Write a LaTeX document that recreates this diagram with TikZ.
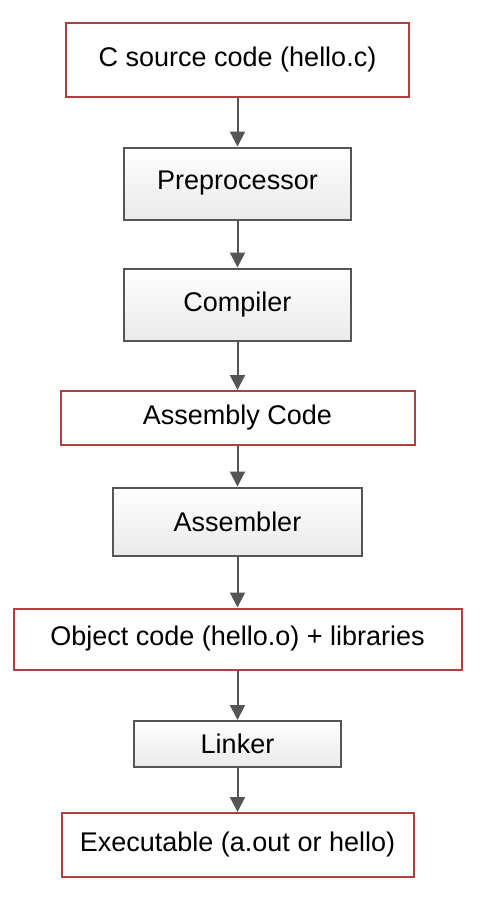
\documentclass[tikz,border=0pt]{standalone}
\usepackage{fontspec}
\setmainfont{Liberation Sans}
\usepackage{xcolor}
\definecolor{rojo}{RGB}{176, 64, 64}
\definecolor{grisOscuro}{RGB}{85, 85, 85}
\definecolor{grisClaro}{RGB}{234, 234, 234}
\usepackage{tikz}
\usetikzlibrary{arrows.meta,shapes,calc,positioning}
\tikzstyle{edge}  =[line width=2pt, draw=grisOscuro,
                    -{Triangle[width=15pt,length=15pt]}]
\tikzstyle{datos}=[rectangle, draw=rojo, fill=white,
                    line width=2pt, inner sep=0pt,
                    font=\fontsize{27}{32}\selectfont]
\tikzstyle{proceso}=[rectangle, draw=grisOscuro,
                    top color=white, bottom color=grisClaro,
                    line width=2pt, inner sep=0pt,
                    font=\fontsize{27}{32}\selectfont]

\begin{document}
\begin{tikzpicture}[x=1pt,y=-1pt]
    \useasboundingbox (0,0) rectangle (480,898);

    \node (1)[datos, minimum width=343pt, minimum height=74pt]
        at (237.5,59.5) {C source code (hello.c)};
    \node (2)[proceso, minimum width=227pt, minimum height=72pt]
        at (237.5,183.5) {Preprocessor};
    \node (3)[proceso, minimum width=227pt, minimum height=72pt]
        at (237.5,304.5) {Compiler};
    \node (4)[datos, minimum width=354pt, minimum height=54pt]
        at (237.5,418) {Assembly Code};
    \node (5)[proceso, minimum width=249pt, minimum height=68pt]
        at (237.5,521.5) {Assembler};
    \node (6)[datos, minimum width=448pt, minimum height=61pt]
        at (237.5,639) {Object code (hello.o) + libraries};
    \node (7)[proceso, minimum width=207pt, minimum height=46pt]
        at (237.5,744) {Linker};
    \node (8)[datos, minimum width=352pt, minimum height=64pt]
        at (237.5,845) {Executable (a.out or hello)};

    \foreach \i/\j in {1/2,2/3,3/4,4/5,5/6,6/7,7/8}
        \draw [edge] (\i) -- (\j);

\end{tikzpicture}
\end{document}
